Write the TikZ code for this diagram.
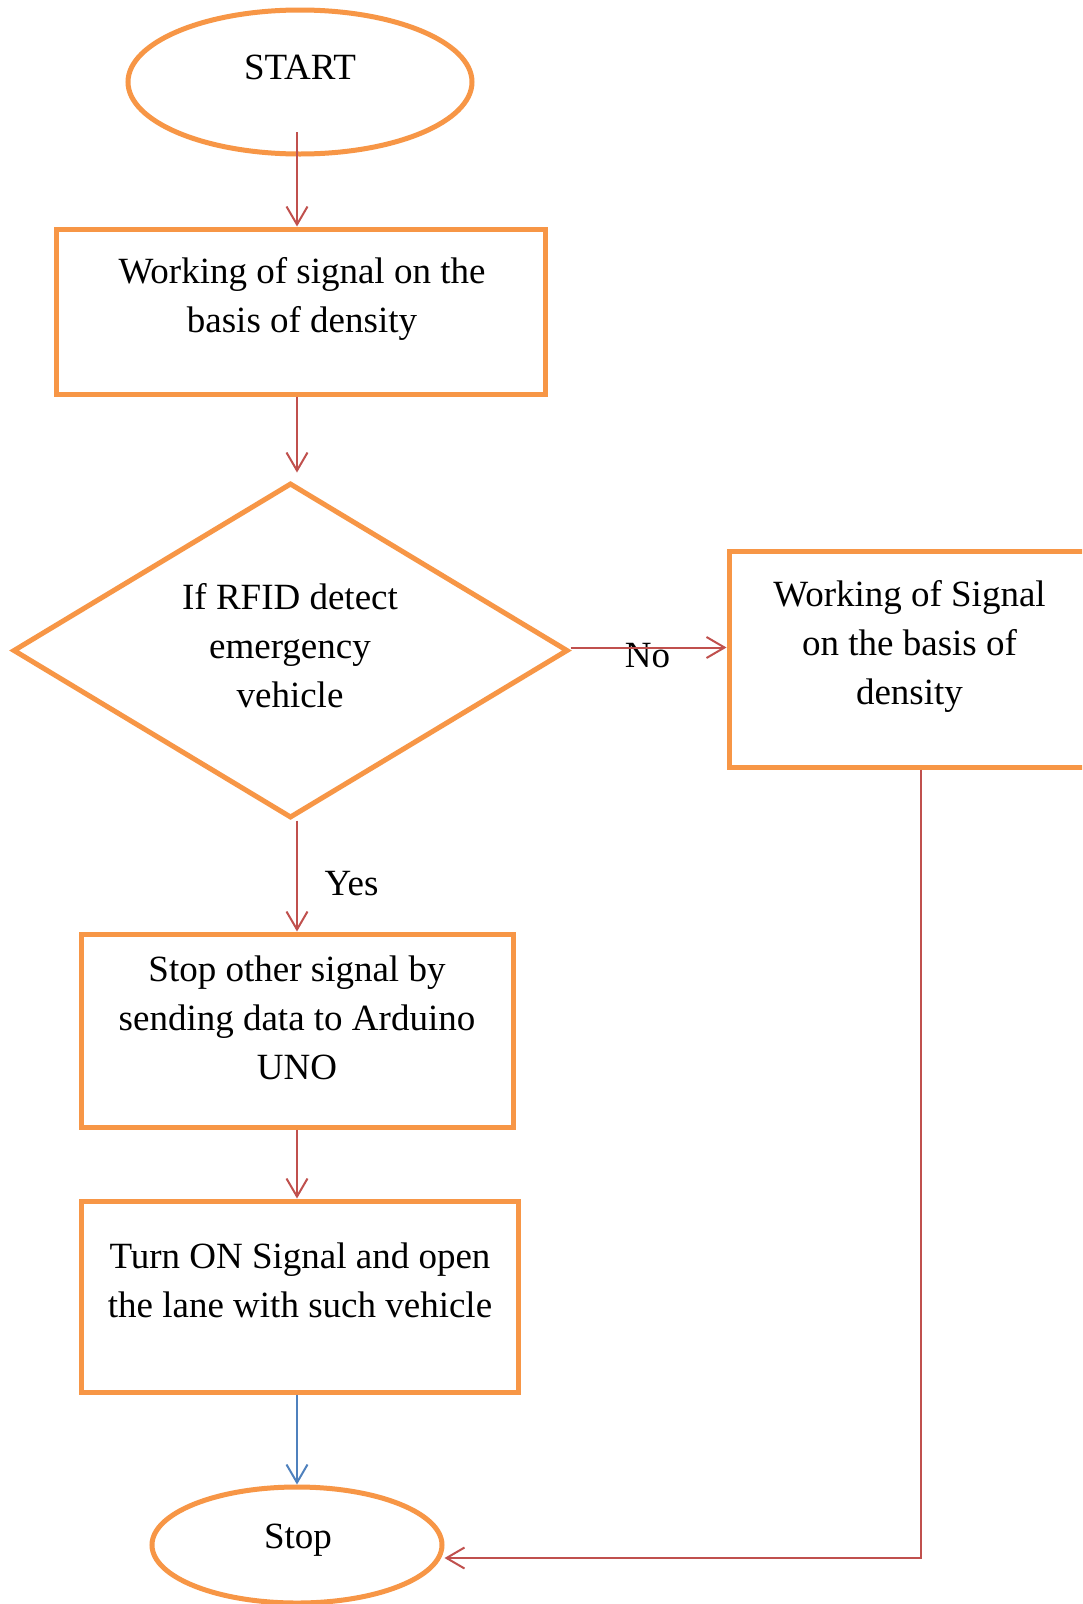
\documentclass[tikz,border=0pt]{standalone}
\usepackage{fontspec}
\setmainfont{Liberation Serif}
\usetikzlibrary{shapes.geometric,arrows.meta}
\definecolor{frameorange}{HTML}{F79646}
\definecolor{linkred}{HTML}{C0504D}
\definecolor{linkblue}{HTML}{4F81BD}
\begin{document}
\begin{tikzpicture}[x=1pt,y=-1pt,
  frame/.style={draw=frameorange, line width=5pt, inner sep=0pt},
  boxshape/.style={frame, rectangle},
  ovalshape/.style={frame, ellipse},
  choice/.style={frame, diamond},
  % text nodes are placed by the baseline of their last line
  txt/.style={inner sep=0pt, align=center, anchor=base, font=\fontsize{37}{49}\selectfont},
  link/.style={draw=linkred, line width=2pt, -{Straight Barb[length=18pt,width=21pt]}},
  bluelink/.style={link, draw=linkblue}]
\clip (0,0) rectangle (1082,1604);
\fill[white] (0,0) rectangle (1082,1604);

% terminals, process boxes and the decision
\node[ovalshape, minimum width=344pt, minimum height=144pt] (start) at (300,82) {};
\node[txt] (startlbl) at (300,79) {START};

\node[boxshape, minimum width=489pt, minimum height=165pt] (b1) at (300.5,311.5) {};
\node[txt] (b1lbl) at (302,332) {Working of signal on the\\basis of density};

\node[choice, minimum width=555pt, minimum height=335pt] (ask) at (290.5,650.5) {};
\node[txt] (asklbl) at (290,707) {If RFID detect\\emergency\\vehicle};

\node[boxshape, minimum width=363pt, minimum height=216pt] (b2) at (910.5,659) {};
\node[txt] (b2lbl) at (909.5,704) {Working of Signal\\on the basis of\\density};

\node[boxshape, minimum width=432pt, minimum height=193pt] (b3) at (297,1030.5) {};
\node[txt] (b3lbl) at (297,1079) {Stop other signal by\\sending data to Arduino\\UNO};

\node[boxshape, minimum width=437pt, minimum height=191pt] (b4) at (299.5,1296.5) {};
\node[txt] (b4lbl) at (300,1317) {Turn ON Signal and open\\the lane with such vehicle};

\node[ovalshape, minimum width=290pt, minimum height=116pt] (stop) at (297,1545) {};
\node[txt] (stoplbl) at (298,1548) {Stop};

% branch labels
\node[txt] (nolbl) at (647.5,667) {No};
\node[txt] (yeslbl) at (351.5,895) {Yes};

% connectors
\coordinate (turn) at (921,1558);
\draw[link] ([xshift=-3pt,yshift=-50pt]start.center) -- ([xshift=-3.5pt]b1.north);
\draw[link] ([xshift=-3.5pt]b1.south) -- ([xshift=6.5pt,yshift=8pt]ask.north);
\draw[link] ([yshift=3pt]ask.east) -- ([yshift=3pt]ask.east -| b2.west);
\draw[link] ([xshift=6.5pt]ask.south) -- ([xshift=6.5pt]ask.south |- b3.north);
\draw[link] (b3.south) -- (b3.south |- b4.north);
\draw[bluelink] (b4.south -| stop.north) -- (stop.north);
\draw[link] (b2.south -| turn) -- (turn) -- (stop.east |- turn);
\end{tikzpicture}
\end{document}
